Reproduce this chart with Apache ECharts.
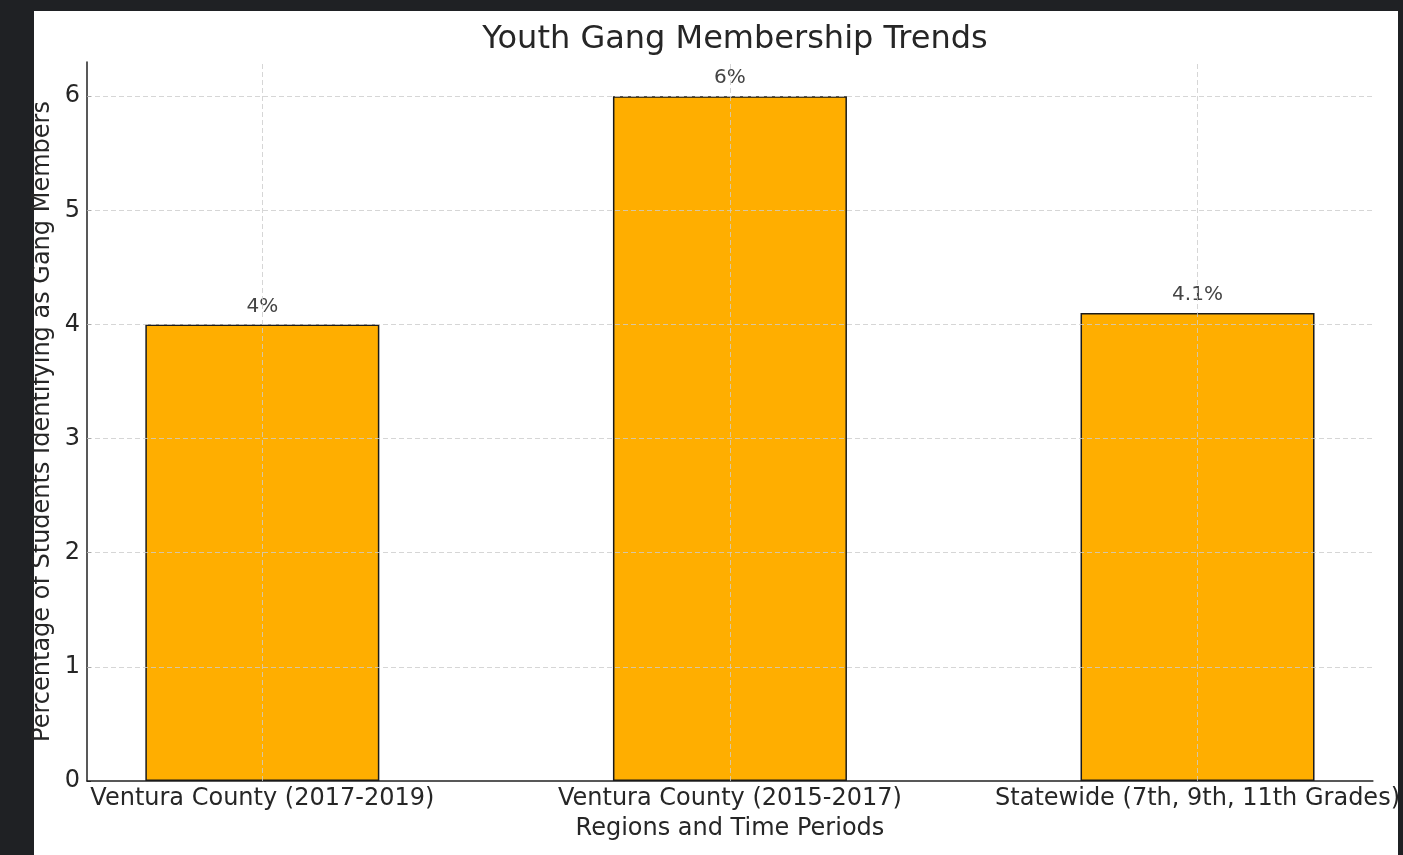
<!DOCTYPE html>
<html>
<head>
<meta charset="utf-8">
<script src="https://cdn.jsdelivr.net/npm/echarts@6/dist/echarts.min.js"></script>
<style>
html,body{margin:0;padding:0;background:#1f2124;}
#c{width:1403px;height:855px;}
</style>
</head>
<body>
<div id="c"></div>
<script>
const categories = ["Ventura County (2017-2019)", "Ventura County (2015-2017)", "Statewide (7th, 9th, 11th Grades)"];
const values = [4, 6, 4.1];
const yTicks = [0, 1, 2, 3, 4, 5, 6];
const xTicks = [0, 1, 2];

const FONT = '"DejaVu Sans", sans-serif';
const TXT = '#262626';
const chart = echarts.init(document.getElementById('c'));
const gridLineStyle = { color: '#cccccc', type: [5, 3], width: 1, opacity: 0.8 };

chart.setOption({
  backgroundColor: '#1f2124',
  animation: false,
  graphic: [{
    type: 'rect', z: -10, silent: true,
    shape: { x: 34, y: 11, width: 1364, height: 844 },
    style: { fill: '#ffffff' }
  }],
  title: {
    text: 'Youth Gang Membership Trends',
    left: 730, top: 19, textAlign: 'center',
    textStyle: { fontFamily: FONT, fontSize: 32, fontWeight: 'normal', color: TXT }
  },
  grid: { left: 87, right: 28, top: 62, bottom: 74, containLabel: false },
  xAxis: {
    type: 'value', min: -0.375, max: 2.375,
    name: 'Regions and Time Periods', nameLocation: 'middle', nameGap: 36,
    nameTextStyle: { fontFamily: FONT, fontSize: 24, color: TXT },
    axisLine: { show: true, onZero: false, lineStyle: { color: '#222', width: 1.5 } },
    axisTick: { show: true, inside: true, length: 4, customValues: xTicks, lineStyle: { color: '#222' } },
    axisLabel: { customValues: xTicks, margin: 6, fontFamily: FONT, fontSize: 24, color: TXT,
      formatter: v => categories[Math.round(v)] },
    splitLine: { show: false }
  },
  yAxis: {
    type: 'value', min: 0, max: 6.3,
    name: 'Percentage of Students Identifying as Gang Members', nameLocation: 'middle', nameGap: 32,
    nameMoveOverlap: false,
    nameTextStyle: { fontFamily: FONT, fontSize: 24, color: TXT },
    axisLine: { show: true, onZero: false, lineStyle: { color: '#222', width: 1.5 } },
    axisTick: { show: true, inside: true, length: 4, customValues: yTicks, lineStyle: { color: '#222' } },
    axisLabel: { customValues: yTicks, margin: 7, fontFamily: FONT, fontSize: 24, color: TXT },
    splitLine: { show: false }
  },
  series: [{
    type: 'bar',
    data: values.map((v, i) => [i, v]),
    barWidth: 234,
    itemStyle: { color: '#ffae00', borderColor: '#1a1a1a', borderWidth: 1.5 },
    label: { show: true, position: 'top', distance: 8, fontFamily: FONT, fontSize: 20, color: '#444',
      formatter: p => p.value[1] + '%' },
    markLine: {
      silent: true, symbol: 'none', label: { show: false },
      lineStyle: gridLineStyle,
      data: yTicks.filter(t => t > 0).map(t => ({ yAxis: t })).concat(xTicks.map(t => ({ xAxis: t })))
    }
  }]
});
</script>
</body>
</html>
